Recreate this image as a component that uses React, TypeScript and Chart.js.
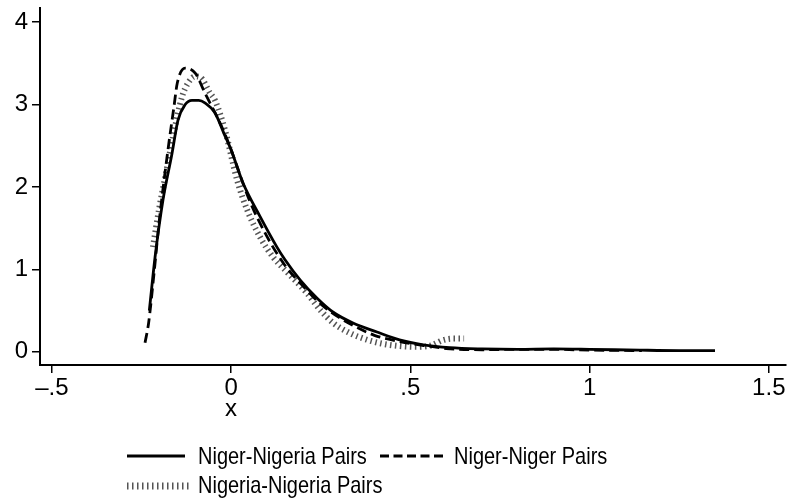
import React, { useEffect, useRef } from "react";
import { Chart, registerables } from "chart.js";

Chart.register(...registerables);

// Niger-Nigeria pairs (solid)
const NN_X = [-0.228, -0.212, -0.19, -0.165, -0.148, -0.128, -0.109, -0.09, -0.073, -0.045, -0.02, 0, 0.033, 0.081, 0.128, 0.15, 0.193, 0.24, 0.285, 0.34, 0.407, 0.47, 0.536, 0.61, 0.7, 0.8, 0.9, 1.0, 1.14, 1.25, 1.35];
const NN_Y = [0.5, 1.15, 1.84, 2.4, 2.81, 3.0, 3.05, 3.05, 3.02, 2.9, 2.65, 2.45, 2.05, 1.64, 1.27, 1.12, 0.87, 0.65, 0.48, 0.35, 0.24, 0.145, 0.085, 0.05, 0.035, 0.03, 0.035, 0.03, 0.02, 0.015, 0.015];

// Niger-Niger pairs (dashed)
const NG_X = [-0.24, -0.23, -0.215, -0.2, -0.176, -0.16, -0.15, -0.128, -0.1, -0.073, -0.045, -0.022, 0, 0.05, 0.1, 0.15, 0.2, 0.25, 0.3, 0.34, 0.4, 0.443, 0.5, 0.55, 0.6, 0.7, 0.8, 0.9, 1.0, 1.146];
const NG_Y = [0.11, 0.35, 0.95, 1.6, 2.45, 2.95, 3.26, 3.44, 3.38, 3.14, 2.9, 2.69, 2.45, 1.85, 1.4, 1.05, 0.8, 0.58, 0.42, 0.32, 0.2, 0.15, 0.1, 0.07, 0.04, 0.025, 0.03, 0.03, 0.02, 0.015];

// Nigeria-Nigeria pairs (hatched)
const GG_X = [-0.218, -0.2, -0.18, -0.16, -0.137, -0.12, -0.1, -0.086, -0.059, -0.045, -0.017, 0.017, 0.045, 0.081, 0.117, 0.16, 0.21, 0.25, 0.285, 0.33, 0.38, 0.42, 0.47, 0.52, 0.56, 0.59, 0.62, 0.65];
const GG_Y = [1.27, 1.75, 2.2, 2.65, 3.09, 3.26, 3.34, 3.33, 3.14, 3.05, 2.69, 2.08, 1.72, 1.39, 1.15, 0.95, 0.72, 0.5, 0.35, 0.23, 0.145, 0.1, 0.07, 0.06, 0.08, 0.14, 0.16, 0.16];

const X_TICKS = [-0.5, 0, 0.5, 1, 1.5];
const X_TICK_LABELS = ["\u2013.5", "0", ".5", "1", "1.5"];
const Y_TICKS = [0, 1, 2, 3, 4];
const Y_TICK_LABELS = ["0", "1", "2", "3", "4"];

const SERIES_LABELS = ["Niger-Nigeria Pairs", "Niger-Niger Pairs", "Nigeria-Nigeria Pairs"];
const X_TITLE = "x";

const FONT = '"Liberation Sans", Arial, Helvetica, sans-serif';
const FS = 24;

const pts = (xs: number[], ys: number[]) => xs.map((x, i) => ({ x, y: ys[i] }));

export default function App() {
  const ref = useRef<HTMLCanvasElement | null>(null);

  useEffect(() => {
    if (!ref.current) return;
    const chart = new Chart(ref.current, {
      type: "line",
      data: {
        datasets: [
          {
            label: SERIES_LABELS[0],
            data: pts(NN_X, NN_Y),
            borderColor: "#000",
            borderWidth: 2.8,
            pointRadius: 0,
            cubicInterpolationMode: "monotone",
            fill: false,
          },
          {
            label: SERIES_LABELS[1],
            data: pts(NG_X, NG_Y),
            borderColor: "#000",
            borderWidth: 2.8,
            borderDash: [10, 5],
            pointRadius: 0,
            cubicInterpolationMode: "monotone",
            fill: false,
          },
          {
            label: SERIES_LABELS[2],
            data: pts(GG_X, GG_Y),
            borderColor: "#555",
            borderWidth: 6,
            borderDash: [1.5, 3.5],
            borderCapStyle: "butt",
            pointRadius: 0,
            cubicInterpolationMode: "monotone",
            fill: false,
          },
        ],
      },
      options: {
        animation: false,
        responsive: false,
        devicePixelRatio: 1,
        layout: { padding: { top: 8, right: 2, left: 0, bottom: 0 } },
        plugins: { legend: { display: false }, tooltip: { enabled: false } },
        scales: {
          x: {
            type: "linear",
            min: -0.533,
            max: 1.548,
            afterBuildTicks: (s: any) => {
              s.ticks = X_TICKS.map((v) => ({ value: v }));
            },
            afterFit: (s: any) => {
              s.height = 65;
              s.paddingLeft = 0;
              s.paddingRight = 0;
            },
            ticks: {
              autoSkip: false,
              maxRotation: 0,
              padding: 1,
              color: "#000",
              font: { family: FONT, size: FS },
              callback: (v: any) => {
                const i = X_TICKS.indexOf(Number(v));
                return i >= 0 ? X_TICK_LABELS[i] : "";
              },
            },
            grid: { display: true, drawOnChartArea: false, drawTicks: true, tickLength: 8, color: "#000", lineWidth: 1.5 },
            border: { display: true, color: "#000", width: 2 },
          },
          y: {
            type: "linear",
            min: -0.16,
            max: 4.17,
            afterBuildTicks: (s: any) => {
              s.ticks = Y_TICKS.map((v) => ({ value: v }));
            },
            afterFit: (s: any) => {
              s.width = 40;
              s.paddingTop = 0;
              s.paddingBottom = 0;
            },
            ticks: {
              autoSkip: false,
              padding: 4,
              color: "#000",
              font: { family: FONT, size: FS },
              callback: (v: any) => {
                const i = Y_TICKS.indexOf(Number(v));
                return i >= 0 ? Y_TICK_LABELS[i] : "";
              },
            },
            grid: { display: true, drawOnChartArea: false, drawTicks: true, tickLength: 8, color: "#000", lineWidth: 1.5 },
            border: { display: true, color: "#000", width: 2 },
          },
        },
      },
    });
    return () => chart.destroy();
  }, []);

  const text: React.CSSProperties = {
    position: "absolute",
    fontFamily: FONT,
    fontSize: FS,
    color: "#000",
    whiteSpace: "nowrap",
    lineHeight: "26px",
  };
  const legendText: React.CSSProperties = {
    ...text,
    transform: "scaleX(0.833)",
    transformOrigin: "left center",
  };

  return (
    <div style={{ position: "fixed", left: 0, top: 0, width: 788, height: 501, background: "#fff", overflow: "hidden" }}>
      <canvas ref={ref} width={788} height={430} style={{ display: "block", position: "absolute", left: 0, top: 0 }} />
      <div style={{ ...text, left: 225, top: 395 }}>{X_TITLE}</div>
      <svg width={788} height={501} style={{ position: "absolute", left: 0, top: 0, pointerEvents: "none" }}>
        <line x1={127} y1={456} x2={185} y2={456} stroke="#000" strokeWidth={2.8} />
        <line x1={380} y1={456} x2={443} y2={456} stroke="#000" strokeWidth={2.8} strokeDasharray="9 4.5" />
        <line x1={127} y1={486} x2={189} y2={486} stroke="#555" strokeWidth={7} strokeDasharray="1.5 3.5" />
      </svg>
      <div style={{ ...legendText, left: 198, top: 443 }}>{SERIES_LABELS[0]}</div>
      <div style={{ ...legendText, left: 454, top: 443 }}>{SERIES_LABELS[1]}</div>
      <div style={{ ...legendText, left: 198, top: 472 }}>{SERIES_LABELS[2]}</div>
    </div>
  );
}
